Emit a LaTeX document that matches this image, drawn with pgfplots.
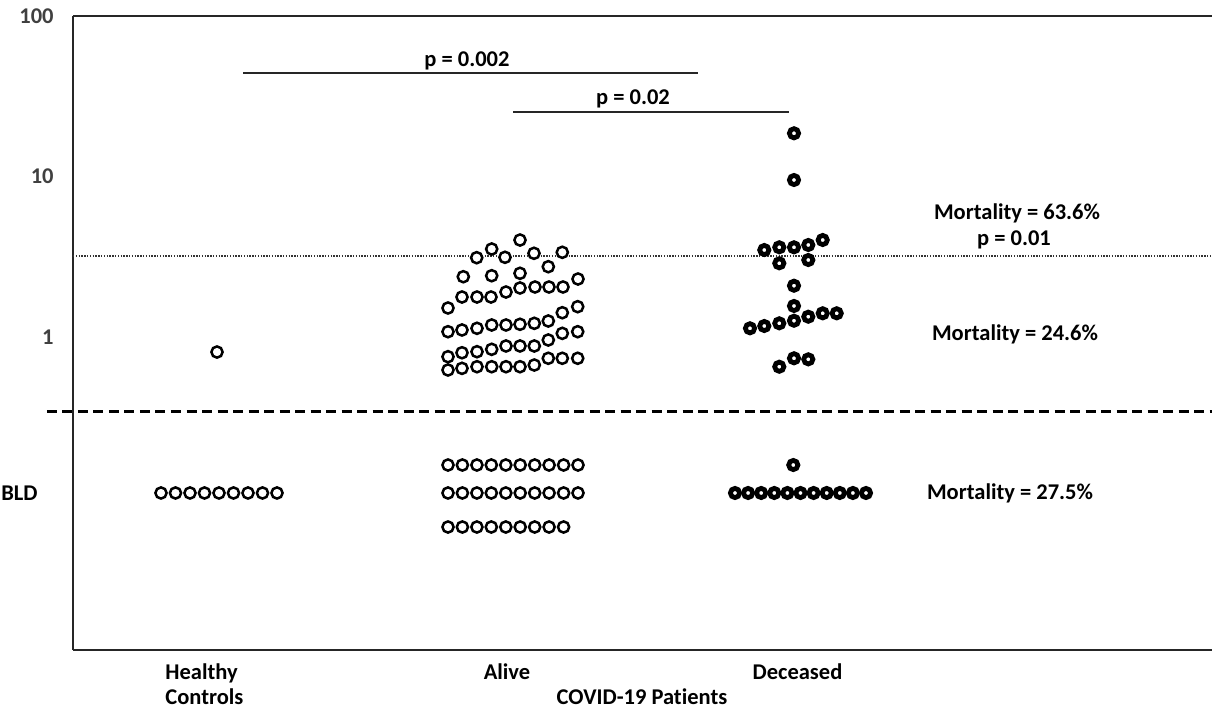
\documentclass[border=0pt]{standalone}
\usepackage{fontspec}
\setmainfont{Carlito}[Ligatures={NoCommon}]
\usepackage{pgfplots}
\pgfplotsset{compat=1.18}
\usepackage{pgfplotstable}

\pgfplotstableread{
x y
520 4.02
491.7 3.534
476.7 3.12
505 3.138
534 3.323
562.3 3.371
548.3 2.742
463.3 2.375
491.7 2.409
520 2.494
448 1.516
462 1.775
477 1.775
491 1.775
506 1.907
520 2.020
535 2.049
549 2.049
563 2.049
578 2.298
448 1.079
462 1.106
477 1.133
491.7 1.188
506 1.188
520 1.200
534.3 1.217
548.3 1.258
562.3 1.417
577.7 1.545
448 0.754
462 0.798
477 0.810
491.7 0.838
506 0.879
520 0.879
534.3 0.879
548.3 0.958
562.3 1.054
577.7 1.079
448 0.623
462 0.638
477 0.653
491.7 0.653
506 0.653
520 0.653
534.3 0.669
548.3 0.737
562.3 0.737
577.7 0.737
}\alive

\pgfplotstableread{
x y
448 0.1594
462.4 0.1594
476.9 0.1594
491.3 0.1594
505.8 0.1594
520.2 0.1594
534.7 0.1594
549.1 0.1594
563.6 0.1594
578 0.1594
448 0.1067
462.4 0.1067
476.9 0.1067
491.3 0.1067
505.8 0.1067
520.2 0.1067
534.7 0.1067
549.1 0.1067
563.6 0.1067
578 0.1067
448 0.0655
462.4 0.0655
476.9 0.0655
491.3 0.0655
505.8 0.0655
520.2 0.0655
534.7 0.0655
549.1 0.0655
563.6 0.0655
}\alivebld

\pgfplotstableread{
x y
217 0.806
161 0.1067
175.5 0.1067
190 0.1067
204.5 0.1067
219 0.1067
233.5 0.1067
248 0.1067
262.5 0.1067
277 0.1067
}\healthy

\pgfplotstableread{
x y
794 18.59
794 9.51
764.3 3.484
779.3 3.622
794 3.622
808.3 3.744
822.7 4.021
779.3 2.879
808.3 3.018
794 2.087
794 1.561
794 1.263
808.3 1.338
822.7 1.405
836.7 1.405
750 1.133
764.3 1.171
779.3 1.217
779.3 0.653
794 0.737
808.3 0.726
793.3 0.1594
735 0.1067
748.1 0.1067
761.2 0.1067
774.3 0.1067
787.4 0.1067
800.5 0.1067
813.6 0.1067
826.7 0.1067
839.8 0.1067
852.9 0.1067
866 0.1067
}\deceased

\begin{document}
\begin{tikzpicture}[font=\fontsize{11.25}{13.5}\selectfont\bfseries]
\begin{axis}[
  scale only axis, width=569.5pt, height=317pt,
  xmin=73, xmax=1212, ymode=log, ymin=0.01122, ymax=100,
  axis x line*=bottom, axis y line*=left,
  axis line style={-, line width=1.1pt, black!85},
  xtick=\empty,
  ytick={0.1067,1,10,100},
  yticklabels={{\textcolor{black}{BLD}\hspace*{8pt}},1,10,100},
  yticklabel style={text=black!75, anchor=east, inner sep=0pt, xshift=-9.5pt},
  ytick style={draw=none},
  clip=false,
]
\coordinate (BL) at (rel axis cs:0,0);
\coordinate (TR) at (rel axis cs:1,1);
\draw[line width=1.1pt, black!85] (rel axis cs:0,1) -- (rel axis cs:1,1);

% reference lines
\addplot[black!80, line width=0.7pt, dash pattern=on 0.7pt off 0.7pt] coordinates {(73,3.2) (1212,3.2)};
\addplot[black, line width=1.5pt, dash pattern=on 5pt off 2.75pt] coordinates {(47,0.3459) (1212,0.3459)};

% significance bars
\addplot[black!85, line width=1pt] coordinates {(243,44.15) (698,44.15)};
\addplot[black!85, line width=1pt] coordinates {(513,25.23) (789,25.23)};

\addplot[only marks, mark=*, mark size=2.8pt, mark options={fill=white, draw=black, line width=1.25pt}] table[x=x,y=y] {\healthy};
\addplot[only marks, mark=*, mark size=2.8pt, mark options={fill=white, draw=black, line width=1.25pt}] table[x=x,y=y] {\alive};
\addplot[only marks, mark=*, mark size=2.8pt, mark options={fill=white, draw=black, line width=1.25pt}] table[x=x,y=y] {\alivebld};
\addplot[only marks, mark=*, mark size=2.3pt, mark options={fill=white, draw=black, line width=2.4pt}] table[x=x,y=y] {\deceased};

% texts
\node[anchor=base, inner sep=0pt] at (axis cs:467,48.11) {p = 0.002};
\node[anchor=base, inner sep=0pt] at (axis cs:633,27.90) {p = 0.02};
\node[anchor=base, inner sep=0pt] at (axis cs:1017,5.358) {Mortality = 63.6\%};
\node[anchor=base, inner sep=0pt] at (axis cs:1014,3.690) {p = 0.01};
\node[anchor=base, inner sep=0pt] at (axis cs:1015,0.9579) {Mortality = 24.6\%};
\node[anchor=base, inner sep=0pt] at (axis cs:1010,0.09787) {Mortality = 27.5\%};
\node[anchor=base west, inner sep=0pt] at (axis cs:165,0.007398) {Healthy};
\node[anchor=base west, inner sep=0pt] at (axis cs:165,0.005168) {Controls};
\node[anchor=base, inner sep=0pt] at (axis cs:507,0.007398) {Alive};
\node[anchor=base, inner sep=0pt] at (axis cs:797.5,0.007398) {Deceased};
\node[anchor=base, inner sep=0pt] at (axis cs:642,0.005168) {COVID-19 Patients};
\end{axis}
\pgfresetboundingbox
\path[use as bounding box] ([xshift=-36.5pt,yshift=-29.5pt]BL) rectangle ([yshift=8pt]TR);
\end{tikzpicture}
\end{document}
